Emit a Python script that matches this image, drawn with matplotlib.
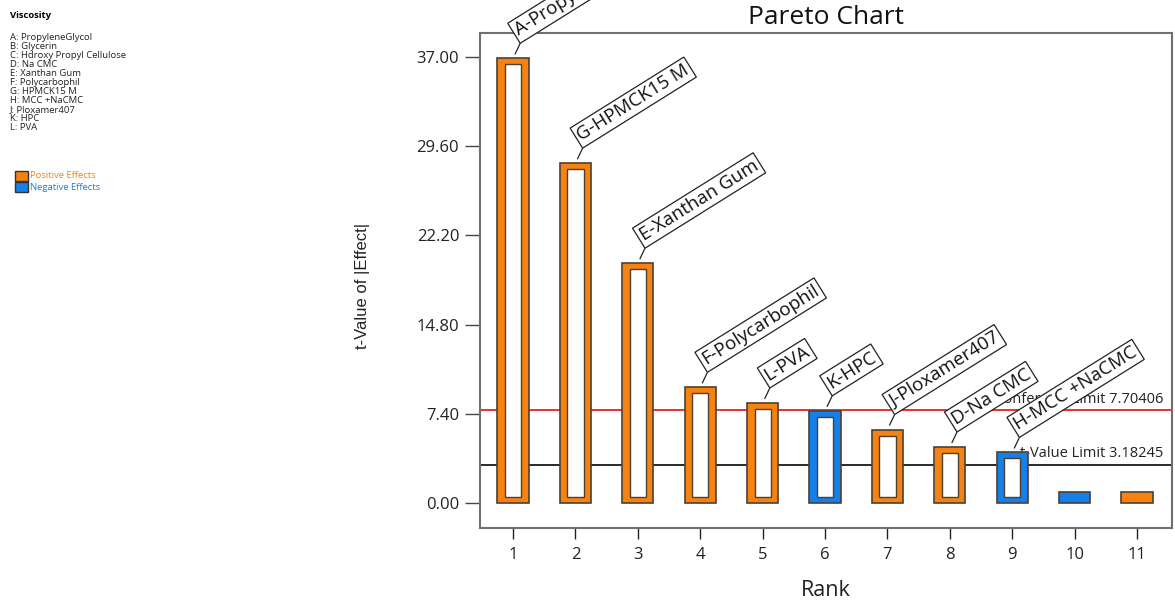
import matplotlib
matplotlib.use('Agg')
import matplotlib.pyplot as plt
from matplotlib.patches import Rectangle

plt.rcParams['font.family'] = ['Open Sans', 'DejaVu Sans']

ranks = list(range(1, 12))
t_values = [36.9, 28.2, 19.9, 9.6, 8.3, 7.65, 6.1, 4.65, 4.2, 0.9, 0.9]
signos = ['+', '+', '+', '+', '+', '-', '+', '+', '-', '-', '+']
etiquetas = ['A-PropyleneGlycol', 'G-HPMCK15 M', 'E-Xanthan Gum', 'F-Polycarbophil',
             'L-PVA', 'K-HPC', 'J-Ploxamer407', 'D-Na CMC', 'H-MCC +NaCMC', '', '']
factores = ['A: PropyleneGlycol', 'B: Glycerin', 'C: Hdroxy Propyl Cellulose', 'D: Na CMC',
            'E: Xanthan Gum', 'F: Polycarbophil', 'G: HPMCK15 M', 'H: MCC +NaCMC',
            'J: Ploxamer407', 'K: HPC', 'L: PVA']
y_ticks = [0.0, 7.4, 14.8, 22.2, 29.6, 37.0]
bonferroni = 7.70406
t_limite = 3.18245

naranja = '#F68212'
azul = '#167FE8'
borde = '#4d4033'

W, H = 1175, 607
fig = plt.figure(figsize=(W / 100, H / 100), dpi=100)
ax = fig.add_axes([480 / W, 1 - 528 / H, 692 / W, 495 / H])

# lineas limite
ax.axhline(bonferroni, color='#ee1c1c', lw=1.3, zorder=2)
ax.axhline(t_limite, color='#1a1a1a', lw=1.3, zorder=2)
ax.text(11.42, bonferroni + 0.3, f'Bonferroni Limit {bonferroni}', ha='right', va='bottom',
        fontsize=10.5, color='#222222', zorder=2.5)
ax.text(11.42, t_limite + 0.3, f't-Value Limit {t_limite}', ha='right', va='bottom',
        fontsize=10.5, color='#222222', zorder=2.5)

for r, v, s, lab in zip(ranks, t_values, signos, etiquetas):
    c = naranja if s == '+' else azul
    ax.bar(r, v, width=0.5, color=c, edgecolor=borde, linewidth=1.2, zorder=3)
    if lab:
        ax.bar(r, v - 1.0, bottom=0.5, width=0.26, color='white', edgecolor=borde,
               linewidth=1.0, zorder=4)
        # linea guia
        ax.annotate('', xy=(r, v), xytext=(5, 10.5), textcoords='offset points',
                    arrowprops=dict(arrowstyle='-', color='#222222', lw=0.9,
                                    shrinkA=0, shrinkB=3.5),
                    annotation_clip=False, zorder=5)
        ax.annotate(lab, xy=(r, v), xytext=(5.8, 13.6), textcoords='offset points',
                    rotation=32, rotation_mode='anchor', ha='left', va='bottom',
                    fontsize=13.5, color='#111111',
                    bbox=dict(boxstyle='square,pad=0.15', fc='white', ec='#222222', lw=0.9),
                    annotation_clip=False, zorder=6)

ax.set_xlim(0.47, 11.56)
ax.set_ylim(-2.07, 39.0)
ax.set_xticks(ranks)
ax.set_yticks(y_ticks)
ax.set_yticklabels([f'{t:.2f}' for t in y_ticks])
ax.tick_params(axis='y', direction='out', length=11, width=1, color='#444444', pad=4,
               labelsize=12, labelcolor='#222222')
ax.tick_params(axis='x', direction='out', length=8, width=1, color='#222222', pad=6,
               labelsize=12, labelcolor='#222222')
for sp in ax.spines.values():
    sp.set_color('#707070')
    sp.set_linewidth(1.5)

ax.set_xlabel('Rank', fontsize=15.5, color='#222222')
ax.xaxis.set_label_coords(0.5, -0.105)
ax.set_ylabel('t-Value of |Effect|', fontsize=12, color='#222222',
              family=['Liberation Sans', 'DejaVu Sans'])
ax.yaxis.set_label_coords(-0.159, 0.49)

fig.text(826 / W, 1 - 17 / H, 'Pareto Chart', ha='center', va='center', fontsize=19,
         color='#111111')

# leyenda lateral
fig.text(10 / W, 1 - 15 / H, 'Viscosity', fontsize=6.8, fontweight='bold', va='center')
for i, f in enumerate(factores):
    fig.text(10 / W, 1 - (37 + 9.1 * i) / H, f, fontsize=6.8, va='center', color='#222222')
for y0, c, txt in [(171, naranja, 'Positive Effects'), (182, azul, 'Negative Effects')]:
    fig.add_artist(Rectangle((15 / W, 1 - (y0 + 10) / H), 13 / W, 10 / H,
                             transform=fig.transFigure, fc=c, ec='#333333', lw=1))
    fig.text(30 / W, 1 - (y0 + 5) / H, txt, fontsize=6.8, va='center', color=c)

fig.savefig('out.png', dpi=100)
